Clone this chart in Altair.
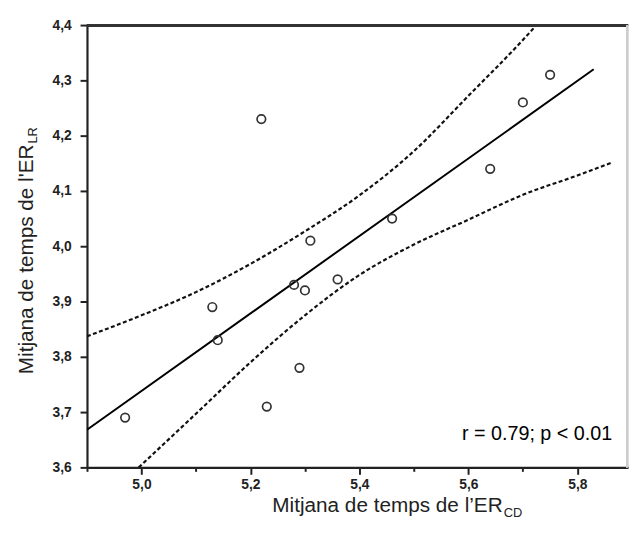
import altair as alt
import pandas as pd

# Scatter data
x_vals = [4.97, 5.13, 5.14, 5.22, 5.23, 5.28, 5.29, 5.30, 5.31, 5.36, 5.46, 5.64, 5.70, 5.75]
y_vals = [3.69, 3.89, 3.83, 4.23, 3.71, 3.93, 3.78, 3.92, 4.01, 3.94, 4.05, 4.14, 4.26, 4.31]

# Regression line
fit_x = [4.9, 5.83]
fit_y = [3.668, 4.32]

# Confidence bands
upper_x = [4.9, 5.0, 5.1, 5.2, 5.3, 5.4, 5.5, 5.6, 5.7, 5.725]
upper_y = [3.837, 3.875, 3.917, 3.968, 4.027, 4.092, 4.172, 4.272, 4.373, 4.4]
lower_x = [4.995, 5.1, 5.2, 5.3, 5.4, 5.5, 5.6, 5.7, 5.8, 5.865]
lower_y = [3.6, 3.697, 3.79, 3.875, 3.948, 4.003, 4.048, 4.093, 4.128, 4.152]

x_ticks = [4.9, 5.0, 5.1, 5.2, 5.3, 5.4, 5.5, 5.6, 5.7, 5.8]
y_ticks = [3.6, 3.65, 3.7, 3.75, 3.8, 3.85, 3.9, 3.95, 4.0, 4.05, 4.1, 4.15, 4.2, 4.25, 4.3, 4.35, 4.4]

annotation = "r = 0.79; p < 0.01"
x_title = "Mitjana de temps de l\u2019ER"
x_sub = "CD"
y_title = "Mitjana de temps de l'ER"
y_sub = "LR"

W, H = 548, 448
FONT = "Liberation Sans, Arial, sans-serif"

pts = pd.DataFrame({"x": x_vals, "y": y_vals})
fit = pd.DataFrame({"x": fit_x, "y": fit_y})
bands = pd.concat([
    pd.DataFrame({"x": upper_x, "y": upper_y, "band": "upper"}),
    pd.DataFrame({"x": lower_x, "y": lower_y, "band": "lower"}),
])

x_major = "abs(datum.value*5 - round(datum.value*5)) < 0.001"
y_major = "abs(datum.value*10 - round(datum.value*10)) < 0.001"

xscale = alt.Scale(domain=[4.9, 5.893], nice=False, zero=False)
yscale = alt.Scale(domain=[3.6, 4.4], nice=False, zero=False)

xaxis = alt.Axis(
    values=x_ticks, title=None, grid=False,
    labelExpr=f"({x_major}) ? replace(format(datum.value, '.1f'), '.', ',') : ''",
    tickSize={"condition": {"test": x_major, "value": 7}, "value": 4},
    tickColor="#222", tickWidth=2, domainColor="#222", domainWidth=2.2,
    labelFont=FONT, labelFontSize=14, labelFontWeight="bold", labelColor="#222",
    labelPadding=3, labelFlush=False, labelOverlap=False,
)
yaxis = alt.Axis(
    values=y_ticks, title=None, grid=False,
    labelExpr=f"({y_major}) ? replace(format(datum.value, '.1f'), '.', ',') : ''",
    tickSize={"condition": {"test": y_major, "value": 7}, "value": 4},
    tickColor="#222", tickWidth=2, domainColor="#222", domainWidth=2.2,
    labelFont=FONT, labelFontSize=14, labelFontWeight="bold", labelColor="#222",
    labelPadding=9, labelFlush=False, labelOverlap=False,
)

base_x = alt.X("x:Q", scale=xscale, axis=xaxis)
base_y = alt.Y("y:Q", scale=yscale, axis=yaxis)

band_layer = alt.Chart(bands).mark_line(
    color="#111", strokeWidth=2.2, strokeDash=[4, 2.5], clip=True, interpolate="monotone"
).encode(x=base_x, y=base_y, detail="band:N", order="x:Q")

fit_layer = alt.Chart(fit).mark_line(color="#000", strokeWidth=2, clip=True).encode(
    x=alt.X("x:Q", scale=xscale), y=alt.Y("y:Q", scale=yscale)
)

pt_layer = alt.Chart(pts).mark_point(
    shape="circle", filled=False, size=75, strokeWidth=1.7, color="#333", opacity=1
).encode(x=alt.X("x:Q", scale=xscale), y=alt.Y("y:Q", scale=yscale))

top_rule = alt.Chart(pts).mark_rule(color="#333", strokeWidth=2.2).encode(
    x=alt.value(0), x2=alt.value(W), y=alt.value(0)
)
right_rule = alt.Chart(pts).mark_rule(color="#ccc", strokeWidth=1).encode(
    x=alt.value(W - 1), y=alt.value(0), y2=alt.value(H)
)

def txt(s, **kw):
    return alt.Chart(pd.DataFrame({"t": [s]})).mark_text(font=FONT, **kw).encode(text="t:N")

ann = txt(annotation, fontSize=20, align="right", baseline="alphabetic", color="#000").encode(
    x=alt.value(532), y=alt.value(420)
)
xt = txt(x_title, fontSize=21, align="right", baseline="alphabetic", color="#222").encode(
    x=alt.value(421), y=alt.value(493)
)
xs = txt(x_sub, fontSize=13, align="left", baseline="alphabetic", color="#222").encode(
    x=alt.value(422), y=alt.value(498)
)
yt = txt(y_title, fontSize=21, align="right", baseline="alphabetic", angle=270, color="#222").encode(
    x=alt.value(-55), y=alt.value(121)
)
ys = txt(y_sub, fontSize=13, align="left", baseline="alphabetic", angle=270, color="#222").encode(
    x=alt.value(-51), y=alt.value(120)
)

chart = alt.layer(
    band_layer, fit_layer, pt_layer, top_rule, right_rule, ann, xt, xs, yt, ys
).properties(
    width=W, height=H,
    autosize=alt.AutoSizeParams(type="none"),
    padding={"left": 80, "top": 14, "right": 2, "bottom": 50},
).configure_view(stroke=None).configure(background="white")

chart.save("out.html", embed_options={"renderer": "svg", "actions": False})
